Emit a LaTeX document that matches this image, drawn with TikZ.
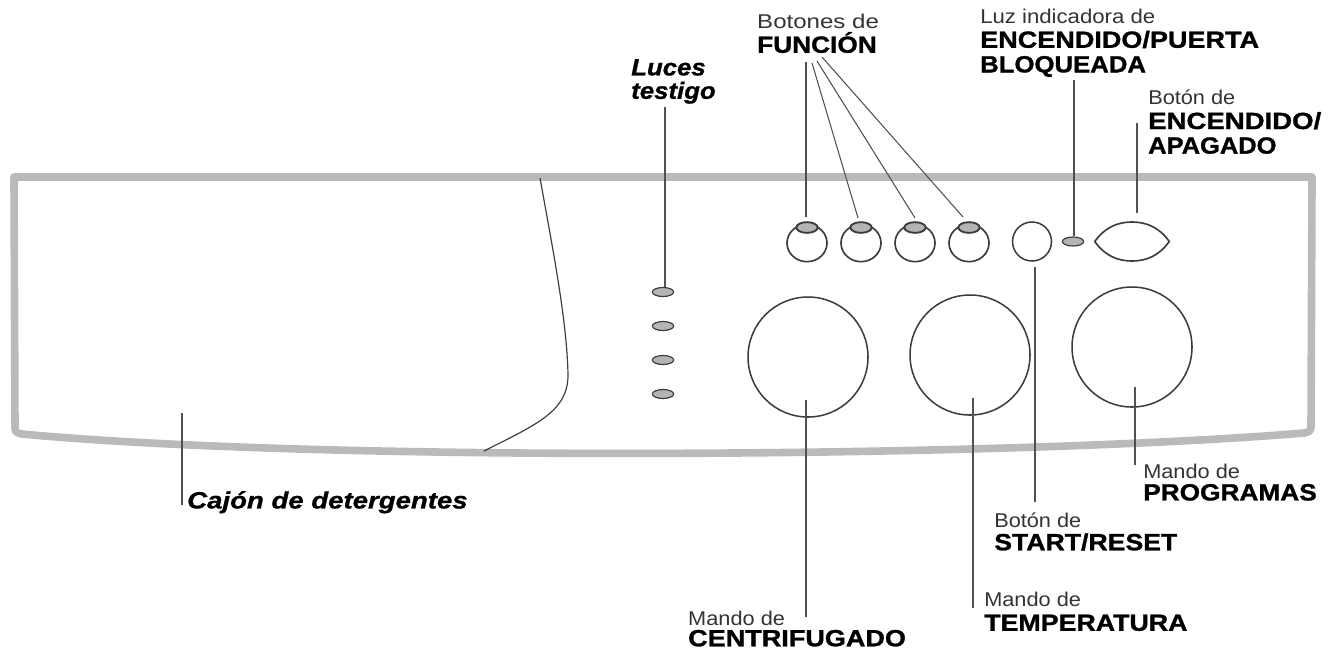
\documentclass[tikz,border=0pt]{standalone}
\usepackage{fontspec}
\usepackage{graphicx}
\setmainfont{Liberation Sans}
\newfontfamily\blackfont[FakeStretch=1.12,FakeBold=1.2]{Liberation Sans Bold}
\newfontfamily\blackitfont[FakeStretch=1.1,FakeBold=1]{Liberation Sans Bold Italic}
\newfontfamily\lightfont[FakeStretch=1.05]{Liberation Sans}
\usepackage{xcolor}
\usetikzlibrary{positioning,shapes.geometric,calc}
\definecolor{panelgray}{HTML}{BABABA}
\definecolor{ledgray}{HTML}{B4B4B4}
\definecolor{inkgray}{HTML}{3C3C3C}
\newcommand{\thintext}[2][1.04]{\scalebox{#1}[1]{\color{black!80}\lightfont\fontsize{17}{21}\selectfont #2}}
\newcommand{\heavytext}[2][1]{\scalebox{#1}[1]{\blackfont\fontsize{20}{21}\selectfont #2}}
\begin{document}
\begin{tikzpicture}[
  x=0.03cm, y=-0.03cm,
  panel/.style={draw=panelgray, line width=6.5pt, line join=round},
  seam/.style={draw=inkgray, line width=1pt},
  lead/.style={draw=inkgray!90, line width=0.9pt},
  knob/.style={circle, draw=inkgray, line width=1.3pt, minimum size=3.6cm, inner sep=0pt},
  keycap/.style={ellipse, draw=inkgray, line width=1.4pt, minimum width=1.2cm, minimum height=1.12cm, inner sep=0pt},
  led/.style={ellipse, draw=inkgray, fill=ledgray, line width=1pt, minimum width=0.64cm, minimum height=0.27cm, inner sep=0pt},
  topled/.style={led, line width=1.6pt, minimum height=0.32cm},
  lbl/.style={align=left, anchor=north west, inner sep=0pt, text=black, font=\fontsize{17}{21}\selectfont},
]
  \useasboundingbox (0,0) rectangle (1329,659);

  % panel outline
  \draw[panel] (15,428) -- (14,177) -- (1312,177) -- (1311,426)
    .. controls (1311,431) and (1309,432) .. (1304,433)
    .. controls (1000,458) and (320,462) .. (22,434)
    .. controls (17,433) and (15,432) .. cycle;
  \draw[seam] (540,178) .. controls (552,245) and (567,320) .. (568,375)
    .. controls (568,412) and (535,425) .. (484,451);

  % lights and buttons
  \foreach \i/\y in {1/292, 2/326, 3/360, 4/394}
    \node[led] (testigo\i) at (663,\y) {};
  \foreach \i/\x in {1/807, 2/861, 3/915, 4/969} {
    \node[keycap] (func\i) at (\x,243) {};
    \node[topled] (cap\i) at (\x,227.5) {};
  }
  \node[knob, minimum size=1.17cm] (startb) at (1032,241.5) {};
  \node[led] (door) at (1073,241.5) {};
  \node[inner sep=0pt, minimum width=2.22cm, minimum height=1.17cm] (power) at (1132,241.5) {};
  \draw[draw=inkgray, line width=1.4pt] (power.west)
    .. controls (1105,227) and (1118,222) .. (1132,222)
    .. controls (1146,222) and (1159,227) .. (power.east)
    .. controls (1159,256) and (1146,261) .. (1132,261)
    .. controls (1118,261) and (1105,256) .. cycle;
  \node[knob] (spin) at (808,357) {};
  \node[knob] (temp) at (970,355) {};
  \node[knob] (prog) at (1132,347) {};

  % labels
  \node[lbl] (lbdrawer) at (187,491) {\scalebox{1.07}[1]{\blackitfont\fontsize{20}{22}\selectfont Cajón de detergentes}};
  \node[lbl, font=\blackitfont\fontsize{20}{20}\selectfont] (lblights) at (631,59) {Luces\\testigo};
  \node[lbl] (lbfunc) at (757,13.5) {\thintext[1.15]{Botones de}\\\heavytext{FUNCIÓN}};
  \node[lbl] (lbdoor) at (980,8.5) {\thintext[1.06]{Luz indicadora de}\\\heavytext[1.03]{ENCENDIDO/PUERTA}\\\heavytext[0.98]{BLOQUEADA}};
  \node[lbl] (lbpower) at (1148,89.5) {\thintext{Botón de}\\\heavytext[1.05]{ENCENDIDO/}\\\heavytext[0.97]{APAGADO}};
  \node[lbl] (lbprog) at (1143,463.5) {\thintext{Mando de}\\[-2pt]\heavytext{PROGRAMAS}};
  \node[lbl] (lbstart) at (994,512.5) {\thintext{Botón de}\\[-1.5pt]\heavytext[1.015]{START/RESET}};
  \node[lbl] (lbtemp) at (984,591.5) {\thintext{Mando de}\\\heavytext[1.02]{TEMPERATURA}};
  \node[lbl] (lbspin) at (688,610.5) {\thintext{Mando de}\\[-3pt]\heavytext[1.03]{CENTRIFUGADO}};

  % free ends of the leaders
  \coordinate (fan1) at (806,62);
  \coordinate (fan2) at (812,63);
  \coordinate (fan3) at (817,61);
  \coordinate (fan4) at (822,57);
  \coordinate (drawerin) at (182,413);
  \coordinate (drawerout) at (182,505);
  \coordinate (lightsup) at (665,107);
  \coordinate (doorup) at (1074,80);
  \coordinate (powerup) at (1137,123);
  \coordinate (startup) at (1035,267);
  \coordinate (startdn) at (1035,502);
  \coordinate (tempin) at (973,398);
  \coordinate (tempdn) at (973,608);
  \coordinate (spinin) at (806,400);
  \coordinate (spindn) at (806,617);
  \coordinate (progin) at (1135,387);
  \coordinate (progdn) at (1135,465);

  % leaders
  \draw[lead] (fan1) -- (806,217);
  \draw[lead] (fan2) -- (858,218);
  \draw[lead] (fan3) -- (915,218);
  \draw[lead] (fan4) -- (963,217);
  \draw[lead] (drawerin) -- (drawerout);
  \draw[lead] (lightsup) -- (testigo1.north -| lightsup);
  \draw[lead] (doorup) -- (door.north -| doorup);
  \draw[lead] (powerup) -- ($(power.north -| powerup)+(0,-9)$);
  \draw[lead] (startup) -- (startdn);
  \draw[lead] (tempin) -- (tempdn);
  \draw[lead] (spinin) -- (spindn);
  \draw[lead] (progin) -- (progdn);
\end{tikzpicture}
\end{document}
